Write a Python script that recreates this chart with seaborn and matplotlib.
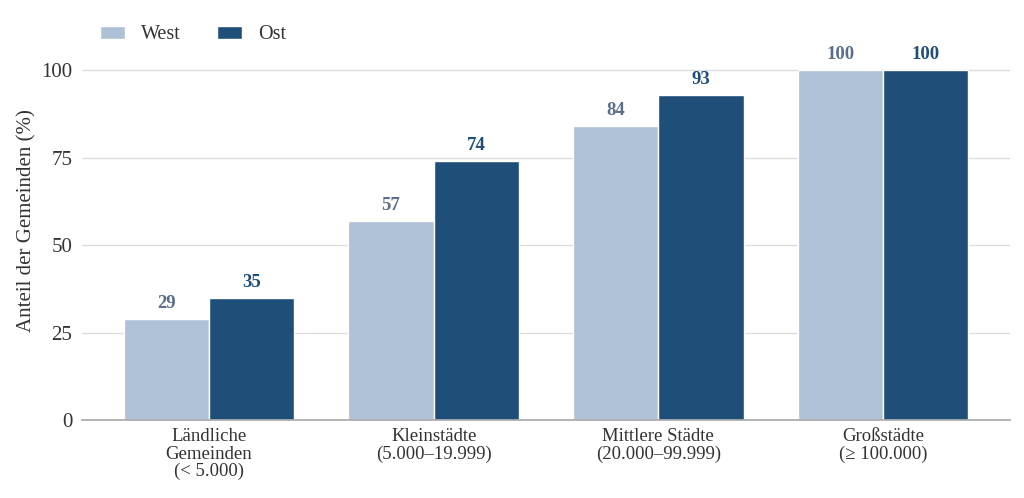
import pandas as pd
import matplotlib
matplotlib.use("Agg")
import matplotlib.pyplot as plt
import seaborn as sns

# Daten
kategorien = ["Ländliche\nGemeinden\n(< 5.000)", "Kleinstädte\n(5.000–19.999)",
              "Mittlere Städte\n(20.000–99.999)", "Großstädte\n(≥ 100.000)"]
west = [29, 57, 84, 100]
ost = [35, 74, 93, 100]
gruppen = ["West", "Ost"]
yticks = [0, 25, 50, 75, 100]

farben = {"West": "#aec1d7", "Ost": "#1f4e79"}
label_farben = {"West": "#5a6e87", "Ost": "#1f4e79"}

df = pd.DataFrame({
    "Kategorie": kategorien * 2,
    "Gruppe": ["West"] * len(west) + ["Ost"] * len(ost),
    "Wert": west + ost,
})

sns.set_theme(style="white")
plt.rcParams["font.family"] = ["Liberation Serif", "DejaVu Serif"]

fig = plt.figure(figsize=(10.24, 4.98), dpi=100)
ax = fig.add_axes([82 / 1024, 78 / 498, 928 / 1024, 364 / 498])

sns.barplot(data=df, x="Kategorie", y="Wert", hue="Gruppe", hue_order=gruppen,
            palette=farben, width=0.76, gap=0, edgecolor="white", linewidth=1,
            saturation=1, ax=ax)

# Werte über den Balken
for cont, g in zip(ax.containers, gruppen):
    for rect in cont:
        h = rect.get_height()
        ax.annotate(f"{h:.0f}", (rect.get_x() + rect.get_width() / 2, h),
                    xytext=(0, 5), textcoords="offset points", ha="center",
                    va="bottom", fontsize=13.5, fontweight="bold",
                    color=label_farben[g])

ax.set_xlim(-0.565, 3.565)
ax.set_ylim(0, 104)
ax.set_yticks(yticks)
ax.yaxis.grid(True, color="#dddddd", linewidth=1)
ax.set_axisbelow(True)
for s in ["top", "right", "left"]:
    ax.spines[s].set_visible(False)
ax.spines["bottom"].set_color("#aaaaaa")
ax.tick_params(axis="y", labelsize=15, colors="#333333", length=0, pad=7)
ax.tick_params(axis="x", labelsize=13.5, colors="#333333", length=0, pad=6)
for lbl in ax.get_xticklabels():
    lbl.set_linespacing(1.02)
ax.set_xlabel("")
ax.set_ylabel("Anteil der Gemeinden (%)", fontsize=15, color="#333333")
ax.yaxis.set_label_coords(-0.049, 0.547)

leg = ax.legend(title=None, loc="center left", bbox_to_anchor=(0.019, 1.058),
                ncol=2, frameon=False, fontsize=14.5, handlelength=1.25,
                handleheight=0.65, handletextpad=0.8, columnspacing=1.8,
                borderaxespad=0, borderpad=0)
for t in leg.get_texts():
    t.set_color("#333333")

fig.savefig("out.png", dpi=100)
